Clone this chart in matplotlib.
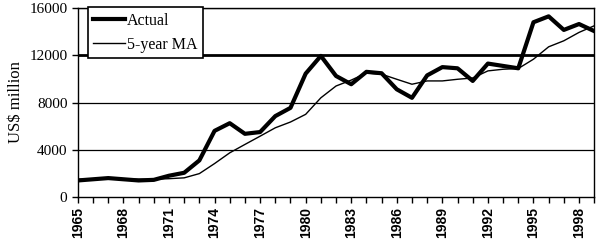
import matplotlib.pyplot as plt

years = list(range(1965, 2000))
actual = [1400, 1500, 1600, 1500, 1400, 1450, 1800, 2050, 3100, 5600,
          6250, 5350, 5500, 6850, 7550, 10450, 11950, 10250, 9550, 10600,
          10480, 9120, 8400, 10300, 11000, 10900, 9830, 11300, 11100, 10900,
          14800, 15300, 14150, 14650, 14050]
ma5 = [1500, 1500, 1550, 1550, 1500, 1500, 1550, 1620, 1980, 2830,
       3740, 4450, 5150, 5860, 6350, 7000, 8400, 9400, 9900, 10500,
       10400, 9970, 9550, 9830, 9830, 9970, 10080, 10680, 10820, 10880,
       11670, 12720, 13230, 13940, 14500]
yticks = [0, 4000, 8000, 12000, 16000]

fig = plt.figure(figsize=(5.99, 2.45), dpi=100)
ax = fig.add_axes([0.130, 0.196, 0.862, 0.771])

# Gridlines
for v in yticks[1:]:
    ax.axhline(v, color="black", linewidth=2.0 if v == 12000 else 0.9, zorder=1)

ax.plot(years, actual, color="black", linewidth=3.0, label="Actual", zorder=3)
ax.plot(years, ma5, color="black", linewidth=1.0, label="5-year MA", zorder=2)

ax.set_xlim(1965, 1999)
ax.set_ylim(0, 16000)
ax.set_yticks(yticks)
ax.set_yticklabels([str(v) for v in yticks], fontfamily="Liberation Serif", fontsize=11)
ax.set_xticks(years)
ax.set_xticklabels([str(y) if (y - 1965) % 3 == 0 else "" for y in years],
                   rotation=90, fontfamily="Liberation Sans", fontsize=10,
                   fontweight="bold")
ax.tick_params(axis="both", direction="out", length=4, width=1, color="black")
ax.set_ylabel("US$ million", fontfamily="Liberation Serif", fontsize=12)

for s in ax.spines.values():
    s.set_linewidth(1.0)

leg = ax.legend(loc="upper left", bbox_to_anchor=(0.019, 1.004), frameon=True,
                fancybox=False, edgecolor="black", framealpha=1,
                prop={"family": "Liberation Serif", "size": 11.5},
                handlelength=2.0, handletextpad=0.1, borderpad=0.35,
                labelspacing=0.5, borderaxespad=0.0)
leg.get_frame().set_linewidth(1.2)

fig.savefig("out.png", dpi=100)
